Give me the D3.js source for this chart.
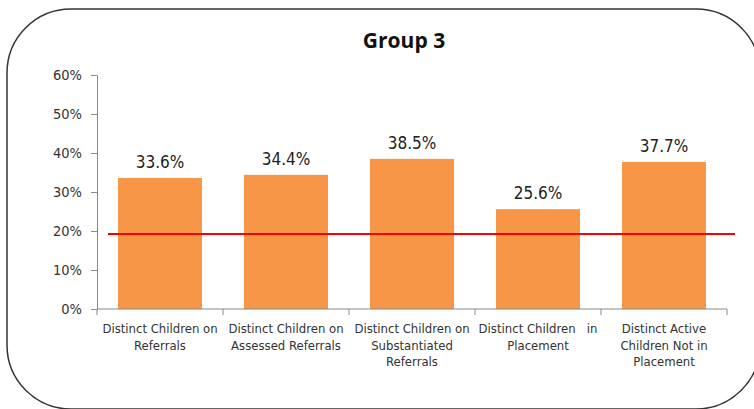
<!DOCTYPE html>
<html>
<head>
<meta charset="utf-8">
<script src="https://cdn.jsdelivr.net/npm/d3@7"></script>
<style>
  html, body { margin: 0; padding: 0; background: #fff; }
  svg { display: block; }
</style>
</head>
<body>
<div id="chart"></div>
<script>
// data
const categories = [
    ['Distinct Children on', 'Referrals'],
    ['Distinct Children on', 'Assessed Referrals'],
    ['Distinct Children on', 'Substantiated', 'Referrals'],
    ['Distinct Children   in', 'Placement'],
    ['Distinct Active', 'Children Not in', 'Placement']
];
const values = [33.6, 34.4, 38.5, 25.6, 37.7];
const yTicks = [0, 10, 20, 30, 40, 50, 60];
const refLine = 19.2;
const title = 'Group 3';

const W = 754, H = 409;
const plot = { left: 97, right: 727, top: 75, bottom: 309 };

const svg = d3.select('#chart').append('svg')
    .attr('width', W)
    .attr('height', H);

// rounded frame (right and bottom edges run off the picture)
svg.append('rect')
    .attr('x', 7).attr('y', 9)
    .attr('width', 753).attr('height', 400)
    .attr('rx', 64).attr('ry', 64)
    .attr('fill', 'none')
    .attr('stroke', '#333')
    .attr('stroke-width', 1.5);

svg.append('text')
    .attr('x', 404).attr('y', 48)
    .attr('text-anchor', 'middle')
    .style('font-family', '"Open Sans", "Noto Sans", sans-serif')
    .style('font-weight', 'bold')
    .style('font-size', '21px')
    .attr('fill', '#111')
    .text(title);

const x = d3.scaleBand()
    .domain(d3.range(values.length))
    .range([plot.left, plot.right])
    .paddingInner(1 / 3)
    .paddingOuter(1 / 6);

const y = d3.scaleLinear()
    .domain([0, 60])
    .range([plot.bottom, plot.top]);

const font = '"Liberation Sans Narrow", "DejaVu Sans Condensed", "Roboto Condensed", sans-serif';

// y axis
const yAxis = svg.append('g')
    .attr('transform', `translate(${plot.left},0)`)
    .call(d3.axisLeft(y).tickValues(yTicks).tickFormat(d => d + '%').tickSize(6).tickSizeOuter(0));
yAxis.select('.domain').attr('stroke', '#888');
yAxis.selectAll('.tick line').attr('stroke', '#888');
yAxis.selectAll('.tick text')
    .attr('x', -15)
    .attr('fill', '#333')
    .style('font-family', font)
    .style('font-size', '14.5px');

// bars
svg.append('g')
    .selectAll('rect')
    .data(values)
    .join('rect')
    .attr('x', (d, i) => x(i))
    .attr('y', d => y(d))
    .attr('width', x.bandwidth())
    .attr('height', d => y(0) - y(d))
    .attr('fill', '#F79646');

// value labels
svg.append('g')
    .selectAll('text')
    .data(values)
    .join('text')
    .attr('x', (d, i) => x(i) + x.bandwidth() / 2)
    .attr('y', d => y(d) - 10)
    .attr('text-anchor', 'middle')
    .attr('fill', '#222')
    .style('font-family', font)
    .style('font-size', '17px')
    .text(d => d.toFixed(1) + '%');

// x axis with ticks on category boundaries
const step = x.step();
const bounds = d3.range(values.length + 1).map(i => plot.left + i * step);
const xAxis = svg.append('g');
xAxis.append('line')
    .attr('x1', plot.left).attr('x2', plot.right)
    .attr('y1', y(0)).attr('y2', y(0))
    .attr('stroke', '#888');
xAxis.selectAll('line.tk')
    .data(bounds)
    .join('line')
    .attr('class', 'tk')
    .attr('x1', d => d).attr('x2', d => d)
    .attr('y1', y(0)).attr('y2', y(0) + 6)
    .attr('stroke', '#888');

// category labels
const cat = svg.append('g')
    .selectAll('text')
    .data(categories)
    .join('text')
    .attr('x', (d, i) => x(i) + x.bandwidth() / 2)
    .attr('y', 333)
    .attr('text-anchor', 'middle')
    .attr('fill', '#333')
    .style('font-family', font)
    .style('font-size', '13px')
    .style('white-space', 'pre');
cat.selectAll('tspan')
    .data(d => d)
    .join('tspan')
    .attr('x', function () { return d3.select(this.parentNode).attr('x'); })
    .attr('dy', (d, i) => i === 0 ? 0 : 16.5)
    .text(d => d);

// red reference line
svg.append('line')
    .attr('x1', 108).attr('x2', 735)
    .attr('y1', y(refLine)).attr('y2', y(refLine))
    .attr('stroke', '#f00')
    .attr('stroke-width', 2);
</script>
</body>
</html>
